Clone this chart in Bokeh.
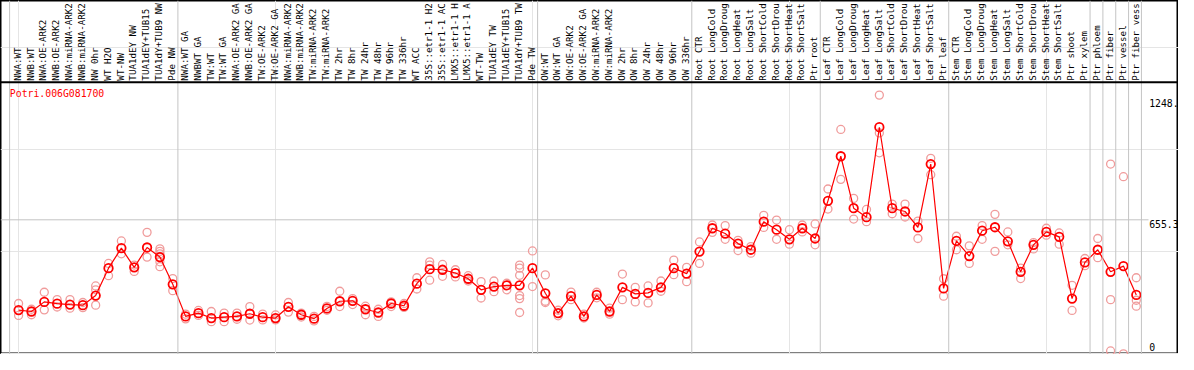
import math
from bokeh.plotting import figure
from bokeh.models import ColumnDataSource, Range1d, Span
from bokeh.core.properties import value
from bokeh.embed import file_html
from bokeh.resources import INLINE

gene_id = "Potri.006G081700"

# column labels as they appear in the header (cut at the header's top edge)
labels = [
    "NWA:WT", "NWB:WT", "NWA:OE-ARK2", "NWB:OE-ARK2", "NWA:miRNA-ARK2", "NWB:miRNA-ARK2",
    "NW 0hr", "WT H2O", "WT-NW", "TUA1dEY NW", "TUA1dEY+TUB15", "TUA1dY+TUB9 NW", "Pde NW",
    "NWA:WT GA", "NWBWT GA", "TW:WT", "TW:WT GA", "NWA:OE-ARK2 GA", "NWB:OE-ARK2 GA",
    "TW:OE-ARK2", "TW:OE-ARK2 GA", "NWA:miRNA-ARK2", "NWB:miRNA-ARK2", "TW:miRNA-ARK2",
    "TW:miRNA-ARK2", "TW 2hr", "TW 8hr", "TW 24hr", "TW 48hr", "TW 96hr", "TW 336hr",
    "WT ACC", "35S::etr1-1 H2", "35S::etr1-1 AC", "LMX5::etr1-1 H", "LMX5::etr1-1 A",
    "WT-TW", "TUA1dEY TW", "TUA1dEY+TUB15", "TUA1dY+TUB9 TW", "Pde TW",
    "OW:WT", "OW:WT GA", "OW:OE-ARK2", "OW:OE-ARK2 GA", "OW:miRNA-ARK2", "OW:miRNA-ARK2",
    "OW 2hr", "OW 8hr", "OW 24hr", "OW 48hr", "OW 96hr", "OW 336hr",
    "Root CTR", "Root LongCold", "Root LongDroug", "Root LongHeat", "Root LongSalt",
    "Root ShortCold", "Root ShortDrou", "Root ShortHeat", "Root ShortSalt", "Ptr root",
    "Leaf CTR", "Leaf LongCold", "Leaf LongDroug", "Leaf LongHeat", "Leaf LongSalt",
    "Leaf ShortCold", "Leaf ShortDrou", "Leaf ShortHeat", "Leaf ShortSalt", "Ptr leaf",
    "Stem CTR", "Stem LongCold", "Stem LongDroug", "Stem LongHeat", "Stem LongSalt",
    "Stem ShortCold", "Stem ShortDrou", "Stem ShortHeat", "Stem ShortSalt", "Ptr shoot",
    "Ptr xylem", "Ptr phloem", "Ptr fiber", "Ptr vessel", "Ptr fiber vess",
]

group_sizes = [13, 28, 12, 10, 10, 11, 1, 1, 1, 1]

means = [
    214, 207, 254, 245, 241, 238, 285, 419, 517, 423, 520, 473, 340,
    183, 199, 175, 179, 183, 196, 179, 175, 230, 191, 172, 222, 257, 259, 218, 202,
    246, 235, 343, 414, 411, 395, 367, 313, 329, 335, 335, 419,
    296, 199, 282, 183, 288, 207, 325, 293, 298, 325, 419, 392,
    500, 614, 588, 539, 509, 646, 607, 560, 614, 564,
    748, 966, 712, 668, 1108, 712, 696, 618, 928, 320,
    552, 478, 602, 619, 550, 401, 533, 596, 572, 270, 447,
    509, 401, 429, 288,
]

replicates = [
    [246, 188], [218, 191], [301, 215], [265, 229], [265, 223], [251, 226],
    [332, 313, 238], [442, 382], [552, 489], [434, 403], [594, 473],
    [513, 501, 489, 450, 426], [368, 309],
    [194, 171], [212, 188], [207, 157], [199, 157], [199, 169], [231, 165],
    [194, 166], [190, 166], [251, 204], [199, 180], [183, 161], [232, 213],
    [306, 231], [270, 241], [233, 191], [218, 183], [254, 231], [246, 227],
    [372, 317], [450, 434, 360], [437, 379], [411, 376], [382, 356], [353, 273],
    [356, 304], [345, 313], [434, 419, 384, 285, 270, 202], [503, 329],
    [386, 257, 251], [186, 213], [302, 265], [175, 194], [301, 274], [194, 223],
    [390, 265], [325, 254], [332, 249], [356, 306], [458, 387], [423, 353],
    [547, 442], [630, 594], [627, 560], [555, 505], [524, 492], [677, 618],
    [654, 560], [607, 536], [630, 596], [635, 533],
    [806, 708], [1097, 853], [760, 659], [706, 646], [1265, 1080, 983], [732, 685],
    [732, 669], [649, 564], [956, 876], [367, 282],
    [575, 509], [528, 442], [627, 560], [682, 501], [596, 533], [419, 368],
    [544, 513], [614, 580], [591, 536], [335, 212], [466, 431],
    [564, 470], [928, 265, 14], [866, 0], [372, 262, 233],
]

tick_values = [1248, 655.3, 0]
tick_labels = ["1248.", "655.3", "0"]

n = len(labels)
xs = list(range(n))

rep_x, rep_y = [], []
for i, reps in enumerate(replicates):
    for v in reps:
        rep_x.append(i)
        rep_y.append(v)

mono = value("DejaVu Sans Mono")
RED = "#ff0000"
PINK = "#f09c9c"
GRAY = "#c4c4c4"

x_lo, x_hi = -1.408, 90.285
y_lo, y_hi = -3.3, 1727.6
header_y = 1327.8

p = figure(width=1178, height=354, x_range=Range1d(x_lo, x_hi), y_range=Range1d(y_lo, y_hi),
           output_backend="svg", toolbar_location=None, min_border=0,
           x_axis_location=None, y_axis_location=None)
p.background_fill_color = "white"
p.border_fill_color = "white"
p.outline_line_color = "black"
p.outline_line_width = 2

# group separators
bounds = [-0.7]
acc = 0
for g in group_sizes:
    acc += g
    bounds.append(acc - 1 + 0.4)
for b in bounds:
    p.add_layout(Span(location=b, dimension="height", line_color=GRAY, line_width=1))

# reference level line
p.segment(x0=[x_lo], x1=[n - 0.05], y0=[tick_values[1]], y1=[tick_values[1]],
          line_color=GRAY, line_width=1)

# header separator
p.add_layout(Span(location=header_y, dimension="width", line_color="black", line_width=2))

# column labels
lab_src = ColumnDataSource(dict(x=[x - 0.1 for x in xs], y=[header_y + 8] * n, text=labels))
p.text(x="x", y="y", text="text", source=lab_src, angle=math.pi / 2,
       text_align="left", text_baseline="middle", text_font=mono,
       text_font_size="9.2px", text_color="black")

# replicates
p.scatter(rep_x, rep_y, marker="circle", size=8, fill_alpha=0,
          line_color=PINK, line_width=1.3)

# means
p.line(xs, means, line_color=RED, line_width=1.2)
p.scatter(xs, means, marker="circle", size=8.5, fill_alpha=0,
          line_color=RED, line_width=1.8)

# gene id
p.text(x=[-0.68], y=[1274], text=[gene_id], text_align="left", text_baseline="middle",
       text_font=mono, text_font_size="9.8px", text_color=RED)

# value labels at right
p.text(x=[n] * 2, y=tick_values[:2], text=tick_labels[:2], text_align="left",
       text_baseline="top", text_font=mono, text_font_size="9.8px", text_color="black")
p.text(x=[n], y=[tick_values[2]], text=[tick_labels[2]], text_align="left",
       text_baseline="bottom", y_offset=-3, text_font=mono, text_font_size="9.8px",
       text_color="black")

open("out.html", "w").write(file_html(p, INLINE))
